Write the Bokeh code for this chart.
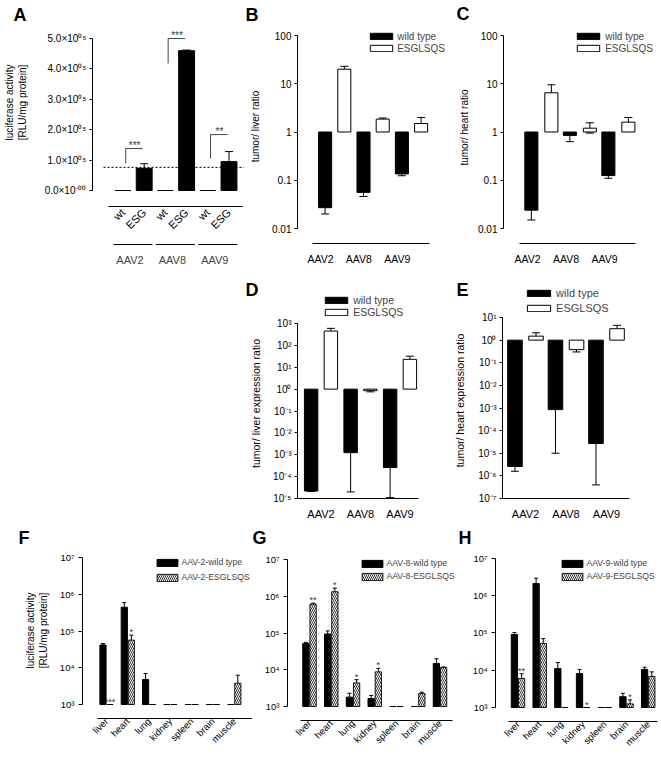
import math
from bokeh.plotting import figure
from bokeh.layouts import column, row
from bokeh.models import (ColumnDataSource, Range1d, FixedTicker, Whisker, TeeHead,
                          Label, Legend, LegendItem, Spacer)
from bokeh.core.properties import value
from bokeh.embed import file_html
from bokeh.resources import INLINE

FONT = "Liberation Sans"

# ---------------- data ----------------
# Panel A
a_vectors = ["AAV2", "AAV8", "AAV9"]
a_bar_names = ["wt", "ESG"]
a_wt = [0.0, 0.0, 0.0]
a_esg = [0.73e5, 4.60e5, 0.95e5]
a_esg_err = [0.88e5, 4.62e5, 1.28e5]
a_ref_level = 0.76e5
a_sig = ["***", "***", "**"]
a_bracket_low = [0.89e5, 4.18e5, 1.05e5]
a_bracket_high = [1.38e5, 5.00e5, 1.84e5]
a_yticks = [0.0, 1e5, 2e5, 3e5, 4e5, 5e5]
a_ytick_labels = ["0.0×10⁻⁰⁰", "1.0×10⁰⁵", "2.0×10⁰⁵", "3.0×10⁰⁵", "4.0×10⁰⁵", "5.0×10⁰⁵"]

# Panels B-E
vectors = ["AAV2", "AAV8", "AAV9"]
series = ["wild type", "ESGLSQS"]

b_wt = [0.027, 0.056, 0.135]
b_wt_low = [0.020, 0.046, 0.124]
b_esg = [20.0, 1.85, 1.5]
b_esg_low = [17.5, 1.80, 1.05]
b_esg_high = [23.0, 1.95, 2.0]

c_wt = [0.024, 0.85, 0.125]
c_wt_low = [0.015, 0.63, 0.11]
c_esg = [6.5, 1.2, 1.6]
c_esg_low = [3.9, 0.95, 1.15]
c_esg_high = [9.5, 1.55, 2.0]

d_wt = [2.2e-5, 1.25e-3, 2.6e-4]
d_wt_low = [2.1e-5, 2.0e-5, 1.1e-5]
d_esg = [450.0, 0.85, 23.0]
d_esg_low = [330.0, 0.75, 15.0]
d_esg_high = [600.0, 0.92, 32.0]

e_wt = [2.6e-6, 8.5e-4, 2.7e-5]
e_wt_low = [1.6e-6, 1.0e-5, 4.0e-7]
e_esg = [1.5, 0.38, 3.2]
e_esg_low = [1.1, 0.30, 2.1]
e_esg_high = [2.1, 0.45, 4.5]

ratio_ticks = [0.01, 0.1, 1.0, 10.0, 100.0]
ratio_tick_labels = ["0.01", "0.1", "1", "10", "100"]
d_ticks = [1e-5, 1e-4, 1e-3, 1e-2, 1e-1, 1.0, 1e1, 1e2, 1e3]
d_tick_labels = ["10⁻⁵", "10⁻⁴", "10⁻³", "10⁻²", "10⁻¹", "10⁰", "10¹", "10²", "10³"]
e_ticks = [1e-7, 1e-6, 1e-5, 1e-4, 1e-3, 1e-2, 1e-1, 1.0, 1e1]
e_tick_labels = ["10⁻⁷", "10⁻⁶", "10⁻⁵", "10⁻⁴", "10⁻³", "10⁻²", "10⁻¹", "10⁰", "10¹"]

# Panels F-H
organs = ["liver", "heart", "lung", "kidney", "spleen", "brain", "muscle"]
organ_ticks = [1e3, 1e4, 1e5, 1e6, 1e7]
organ_tick_labels = ["10³", "10⁴", "10⁵", "10⁶", "10⁷"]

f_series = ["AAV-2-wild type", "AAV-2-ESGLSQS"]
f_wt = [4.2e4, 4.5e5, 4.8e3, 1e3, 1e3, 1e3, 1e3]
f_wt_err = [4.6e4, 6.0e5, 7.0e3, 1e3, 1e3, 1e3, 1e3]
f_esg = [1e3, 5.7e4, 1e3, 1e3, 1e3, 1e3, 3.8e3]
f_esg_err = [1e3, 7.8e4, 1e3, 1e3, 1e3, 1e3, 6.3e3]
f_sig = ["***", "*", "", "", "", "", ""]

g_series = ["AAV-8-wild type", "AAV-8-ESGLSQS"]
g_wt = [5.2e4, 9.5e4, 1.8e3, 1.65e3, 1e3, 1e3, 1.5e4]
g_wt_err = [5.6e4, 1.15e5, 2.3e3, 2.0e3, 1e3, 1e3, 2.0e4]
g_esg = [6.2e5, 1.35e6, 4.4e3, 8.8e3, 1e3, 2.25e3, 1.15e4]
g_esg_err = [6.6e5, 1.7e6, 5.4e3, 1.1e4, 1e3, 2.45e3, 1.2e4]
g_sig = ["**", "*", "*", "*", "", "", ""]

h_series = ["AAV-9-wild type", "AAV-9-ESGLSQS"]
h_wt = [9.0e4, 2.1e6, 1.1e4, 8.1e3, 1e3, 1.95e3, 1.05e4]
h_wt_err = [1.02e5, 2.9e6, 1.6e4, 1.05e4, 1e3, 2.4e3, 1.2e4]
h_esg = [6.0e3, 5.2e4, 1e3, 1e3, 1e3, 1.25e3, 6.8e3]
h_esg_err = [8.0e3, 7.0e4, 1e3, 1e3, 1e3, 1.6e3, 9.0e3]
h_sig = ["**", "", "", "*", "", "*", ""]


# ---------------- helpers ----------------
class Geo:
    """Pixel geometry of one panel: box in page pixels, x unit mapping, y mapping."""

    def __init__(self, box, px0, unit, yref=None, lin=None):
        self.box, self.px0, self.unit = box, px0, unit
        self.log = yref is not None
        if self.log:
            (pa, da), (pb, db) = yref
            self.pa, self.da = pa, da
            self.ppd = (pa - pb) / (db - da)
        else:
            self.zero, self.ppu = lin

    def x(self, px):
        return (px - self.px0) / self.unit

    def y(self, py):
        if self.log:
            return 10 ** (self.da + (self.pa - py) / self.ppd)
        return (self.zero - py) / self.ppu


def make_fig(geo, yaxis_px, xaxis_py, xbounds_px, ybounds):
    bx0, by0, bx1, by1 = geo.box
    p = figure(width=bx1 - bx0, height=by1 - by0,
               x_range=Range1d(geo.x(bx0), geo.x(bx1)),
               y_range=Range1d(geo.y(by1), geo.y(by0)),
               y_axis_type="log" if geo.log else "linear",
               output_backend="svg", toolbar_location=None,
               min_border=0, min_border_left=0, min_border_right=0,
               min_border_top=0, min_border_bottom=0)
    p.outline_line_color = None
    p.xgrid.visible = False
    p.ygrid.visible = False
    p.background_fill_color = "white"
    p.border_fill_color = "white"
    for ax in (p.xaxis[0], p.yaxis[0]):
        ax.axis_line_color = "black"
        ax.axis_line_width = 1
        ax.major_tick_line_color = "black"
        ax.major_tick_in = 0
        ax.major_tick_out = 3
        ax.minor_tick_line_color = None
        ax.minor_tick_out = 0
        ax.minor_tick_in = 0
        ax.major_label_text_font = FONT
        ax.major_label_text_font_size = "10px"
        ax.major_label_text_color = "black"
        ax.major_label_standoff = 3
    ya = p.yaxis[0]
    ya.fixed_location = geo.x(yaxis_px)
    ya.bounds = ybounds
    xa = p.xaxis[0]
    xa.fixed_location = geo.y(xaxis_py)
    xa.bounds = (geo.x(xbounds_px[0]), geo.x(xbounds_px[1]))
    xa.major_tick_out = 0
    return p


def screen_label(p, geo, px, py, text, size, bold=False, angle=0.0, align="center", color="black"):
    p.add_layout(Label(x=px - geo.box[0], y=geo.box[3] - py, x_units="screen", y_units="screen",
                       text=text, angle=angle, text_align=align, text_baseline="middle",
                       text_font=FONT, text_font_size=size,
                       text_font_style="bold" if bold else "normal", text_color=color))


def add_legend(p, geo, renderers, labels, swatch_left, swatch_w, glyph_h, first_center, step,
               standoff, fs):
    gw = int(round(swatch_w / 0.8))
    item_h = 12
    spacing = max(0, step - item_h)
    n = len(labels)
    bottom = first_center - item_h / 2 + n * item_h + (n - 1) * spacing
    leg = Legend(items=[LegendItem(label=l, renderers=[r]) for l, r in zip(labels, renderers)],
                 location=(swatch_left - 0.1 * gw - geo.box[0], geo.box[3] - bottom),
                 orientation="vertical", padding=0, margin=0, spacing=spacing,
                 glyph_width=gw, glyph_height=glyph_h, label_height=item_h, label_width=10,
                 label_standoff=standoff, label_text_font=FONT, label_text_font_size=fs,
                 background_fill_alpha=0, border_line_color=None)
    p.add_layout(leg)


ROW1 = (0, 268)
ROW2 = (268, 525)
ROW3 = (525, 758)

# ---------------- Panel A ----------------
ga_geo = Geo((0, ROW1[0], 244, ROW1[1]), 122.5, 21.2, lin=(190.0, (190.0 - 38.0) / 5e5))
pa = make_fig(ga_geo, 92, 206, (108, 242), (a_yticks[0], a_yticks[-1]))
ga = list(range(len(a_vectors)))
ax_wt = [2 * g for g in ga]
ax_esg = [2 * g + 1 for g in ga]
pa.vbar(x=ax_wt, top=a_wt, bottom=0, width=0.75, fill_color="black", line_color="black", line_width=1.2)
pa.vbar(x=ax_esg, top=a_esg, bottom=0, width=0.75, fill_color="black", line_color="black", line_width=1)
pa.add_layout(Whisker(source=ColumnDataSource(dict(x=ax_esg, lo=a_esg, hi=a_esg_err)),
                      base="x", lower="lo", upper="hi", dimension="height",
                      line_color="black", line_width=1, lower_head=None,
                      upper_head=TeeHead(size=8, line_color="black", line_width=1)))
pa.line(x=[ga_geo.x(103), ga_geo.x(244)], y=[a_ref_level, a_ref_level],
        line_dash="2 2", line_color="black", line_width=1)
pa.multi_line(xs=[[2 * g + 0.13, 2 * g + 0.13, 2 * g + 0.93] for g in ga],
              ys=[[lo, hi, hi] for lo, hi in zip(a_bracket_low, a_bracket_high)],
              line_color="#444444", line_width=1)
pa.text(x=[2 * g + 0.55 for g in ga], y=a_bracket_high, text=a_sig, text_font=value(FONT),
        text_font_size="10px", text_align="center", text_baseline="alphabetic", y_offset=-3,
        text_color="#333333")
xa = pa.xaxis[0]
xa.ticker = FixedTicker(ticks=sorted(ax_wt + ax_esg))
xa.major_label_overrides = {t: a_bar_names[t % 2] for t in sorted(ax_wt + ax_esg)}
xa.major_label_orientation = math.pi / 4
xa.major_label_standoff = 4
xa.major_label_text_font_size = "11px"
ya = pa.yaxis[0]
ya.ticker = FixedTicker(ticks=a_yticks)
ya.major_label_overrides = dict(zip(a_yticks, a_ytick_labels))
line_y = ga_geo.y(244)
pa.segment(x0=[2 * g - 0.45 for g in ga], x1=[2 * g + 1.39 for g in ga],
           y0=[line_y] * len(ga), y1=[line_y] * len(ga), line_color="black", line_width=1)
for g, name in zip(ga, a_vectors):
    pa.add_layout(Label(x=2 * g + 0.33, y=ga_geo.box[3] - 259, x_units="data", y_units="screen",
                        text=name, text_align="center", text_baseline="middle",
                        text_font=FONT, text_font_size="11px"))
screen_label(pa, ga_geo, 13, 14, "A", "18px", bold=True, align="left")
screen_label(pa, ga_geo, 9, 102, "luciferase activity", "10px", angle=math.pi / 2)
screen_label(pa, ga_geo, 22, 102, "[RLU/mg protein]", "10px", angle=math.pi / 2)


# ---------------- Panels B-E ----------------
def ratio_panel(geo, yaxis_px, xaxis_py, xb_px, wt_off, esg_off, bw, ticks, tick_labels,
                wt, wt_low, esg, esg_low, esg_high, cap, xfs):
    p = make_fig(geo, yaxis_px, xaxis_py, xb_px, (ticks[0], ticks[-1]))
    gs = list(range(len(vectors)))
    xw = [g + wt_off for g in gs]
    xe = [g + esg_off for g in gs]
    r_wt = p.vbar(x=xw, top=wt, bottom=1.0, width=bw, fill_color="black", line_color="black", line_width=1)
    r_esg = p.vbar(x=xe, top=esg, bottom=1.0, width=bw, fill_color="white", line_color="black", line_width=1)
    p.add_layout(Whisker(source=ColumnDataSource(dict(x=xw, lo=wt_low, hi=wt)),
                         base="x", lower="lo", upper="hi", dimension="height",
                         line_color="black", line_width=1, upper_head=None,
                         lower_head=TeeHead(size=cap, line_color="black", line_width=1)))
    p.add_layout(Whisker(source=ColumnDataSource(dict(x=xe, lo=esg_low, hi=esg_high)),
                         base="x", lower="lo", upper="hi", dimension="height",
                         line_color="black", line_width=1,
                         lower_head=TeeHead(size=cap, line_color="black", line_width=1),
                         upper_head=TeeHead(size=cap, line_color="black", line_width=1)))
    xa = p.xaxis[0]
    xa.ticker = FixedTicker(ticks=gs)
    xa.major_label_overrides = dict(zip(gs, vectors))
    xa.major_label_standoff = 9
    xa.major_label_text_font_size = xfs
    ya = p.yaxis[0]
    ya.ticker = FixedTicker(ticks=ticks)
    ya.major_label_overrides = dict(zip(ticks, tick_labels))
    return p, r_wt, r_esg


gb = Geo((244, ROW1[0], 447, ROW1[1]), 320, 38.4, yref=((228, -2), (35, 2)))
pb, rbw, rbe = ratio_panel(gb, 297, 243, (312, 429), 0.12, 0.62, 0.34, ratio_ticks, ratio_tick_labels,
                           b_wt, b_wt_low, b_esg, b_esg_low, b_esg_high, 8, "10.5px")
add_legend(pb, gb, [rbw, rbe], series, 370, 22, 8, 36, 12, 2, "10px")
screen_label(pb, gb, 245, 14, "B", "18px", bold=True, align="left")
screen_label(pb, gb, 255, 126, "tumor/ liver ratio", "10px", angle=math.pi / 2)

gc = Geo((447, ROW1[0], 661, ROW1[1]), 527, 38.5, yref=((228, -2), (35, 2)))
pc, rcw, rce = ratio_panel(gc, 503, 243, (519, 635), 0.10, 0.62, 0.34, ratio_ticks, ratio_tick_labels,
                           c_wt, c_wt_low, c_esg, c_esg_low, c_esg_high, 8, "10.5px")
add_legend(pc, gc, [rcw, rce], series, 577, 22, 8, 36, 12, 3, "10px")
screen_label(pc, gc, 456, 13, "C", "18px", bold=True, align="left")
screen_label(pc, gc, 464, 127, "tumor/ heart ratio", "10px", angle=math.pi / 2)

gd = Geo((244, ROW2[0], 437, ROW2[1]), 320.5, 39.5, yref=((498, -5), (323, 3)))
pd_, rdw, rde = ratio_panel(gd, 297, 498, (297, 418), -0.25, 0.25, 0.34, d_ticks, d_tick_labels,
                            d_wt, d_wt_low, d_esg, d_esg_low, d_esg_high, 8, "11px")
add_legend(pd_, gd, [rdw, rde], series, 325, 22, 8, 300, 12, 3, "10.5px")
screen_label(pd_, gd, 245, 289, "D", "18px", bold=True, align="left")
screen_label(pd_, gd, 255, 403, "tumor/ liver expression ratio", "10.5px", angle=math.pi / 2)

ge = Geo((437, ROW2[0], 661, ROW2[1]), 525, 40.5, yref=((498, -7), (317, 1)))
pe, rew, ree = ratio_panel(ge, 502, 498, (502, 629), -0.26, 0.26, 0.36, e_ticks, e_tick_labels,
                           e_wt, e_wt_low, e_esg, e_esg_low, e_esg_high, 8, "11px")
add_legend(pe, ge, [rew, ree], series, 527, 23, 8, 293, 15, 3, "11px")
screen_label(pe, ge, 456, 289, "E", "18px", bold=True, align="left")
screen_label(pe, ge, 459, 400, "tumor/ heart expression ratio", "10.5px", angle=math.pi / 2)


# ---------------- Panels F-H ----------------
def organ_panel(geo, yaxis_px, xaxis_py, xb_px, wt, wt_err, esg, esg_err, sig):
    p = make_fig(geo, yaxis_px, xaxis_py, xb_px, (organ_ticks[0], organ_ticks[-1]))
    idx = list(range(len(organs)))
    xw = [i - 0.165 for i in idx]
    xe = [i + 0.165 for i in idx]
    base = organ_ticks[0]
    r_wt = p.vbar(x=xw, top=wt, bottom=base, width=0.29, fill_color="black",
                  line_color="black", line_width=1)
    r_esg = p.vbar(x=xe, top=esg, bottom=base, width=0.29, fill_color="white",
                   line_color="black", line_width=0.9, hatch_pattern="left_diagonal_line",
                   hatch_color="black", hatch_scale=4, hatch_weight=0.8)
    for xs, v, e in ((xw, wt, wt_err), (xe, esg, esg_err)):
        keep = [k for k in idx if e[k] > v[k]]
        p.add_layout(Whisker(source=ColumnDataSource(dict(x=[xs[k] for k in keep],
                                                          lo=[v[k] for k in keep],
                                                          hi=[e[k] for k in keep])),
                             base="x", lower="lo", upper="hi", dimension="height",
                             line_color="black", line_width=1, lower_head=None,
                             upper_head=TeeHead(size=4, line_color="black", line_width=1)))
    sk = [k for k in idx if sig[k]]
    p.text(x=[xe[k] for k in sk], y=[max(esg[k], esg_err[k]) for k in sk], text=[sig[k] for k in sk],
           text_font=value(FONT), text_font_size="9px", text_align="center",
           text_baseline="alphabetic", y_offset=-3, text_color="#333333")
    xa = p.xaxis[0]
    xa.ticker = FixedTicker(ticks=idx)
    xa.major_label_overrides = dict(zip(idx, organs))
    xa.major_label_orientation = math.pi / 4
    xa.major_label_standoff = 1
    xa.major_label_text_font_size = "9.5px"
    ya = p.yaxis[0]
    ya.ticker = FixedTicker(ticks=organ_ticks)
    ya.major_label_overrides = dict(zip(organ_ticks, organ_tick_labels))
    ya.major_tick_out = 4
    ya.major_label_standoff = 4
    ya.major_label_text_font_size = "9.5px"
    return p, r_wt, r_esg


gf = Geo((0, ROW3[0], 252, ROW3[1]), 106, 21.3, yref=((704, 3), (594, 6)))
pf, rfw, rfe = organ_panel(gf, 82, 718, (97, 252), f_wt, f_wt_err, f_esg, f_esg_err, f_sig)
add_legend(pf, gf, [rfw, rfe], f_series, 157, 21, 9, 562, 15, 1, "8.7px")
screen_label(pf, gf, 18, 537, "F", "18px", bold=True, align="left")
screen_label(pf, gf, 30, 630, "luciferase activity", "10px", angle=math.pi / 2)
screen_label(pf, gf, 43, 630, "[RLU/mg protein]", "10px", angle=math.pi / 2)

gg = Geo((252, ROW3[0], 457, ROW3[1]), 309, 21.75, yref=((706, 3), (596, 6)))
pg, rgw, rge = organ_panel(gg, 287, 720, (300, 452), g_wt, g_wt_err, g_esg, g_esg_err, g_sig)
add_legend(pg, gg, [rgw, rge], g_series, 362, 21, 9, 563, 13, 1, "8.7px")
screen_label(pg, gg, 252, 537, "G", "18px", bold=True, align="left")

gh = Geo((457, ROW3[0], 661, ROW3[1]), 517.5, 21.7, yref=((707, 3), (595, 6)))
ph, rhw, rhe = organ_panel(gh, 495, 721, (508, 657), h_wt, h_wt_err, h_esg, h_esg_err, h_sig)
add_legend(ph, gh, [rhw, rhe], h_series, 562, 21, 9, 563, 13, 1, "8.7px")
screen_label(ph, gh, 458, 537, "H", "18px", bold=True, align="left")

layout = column(
    row(pa, pb, pc, spacing=0),
    row(Spacer(width=244, height=ROW2[1] - ROW2[0]), pd_, pe, spacing=0),
    row(pf, pg, ph, spacing=0),
    spacing=0,
)

open("out.html", "w").write(file_html(layout, INLINE))
